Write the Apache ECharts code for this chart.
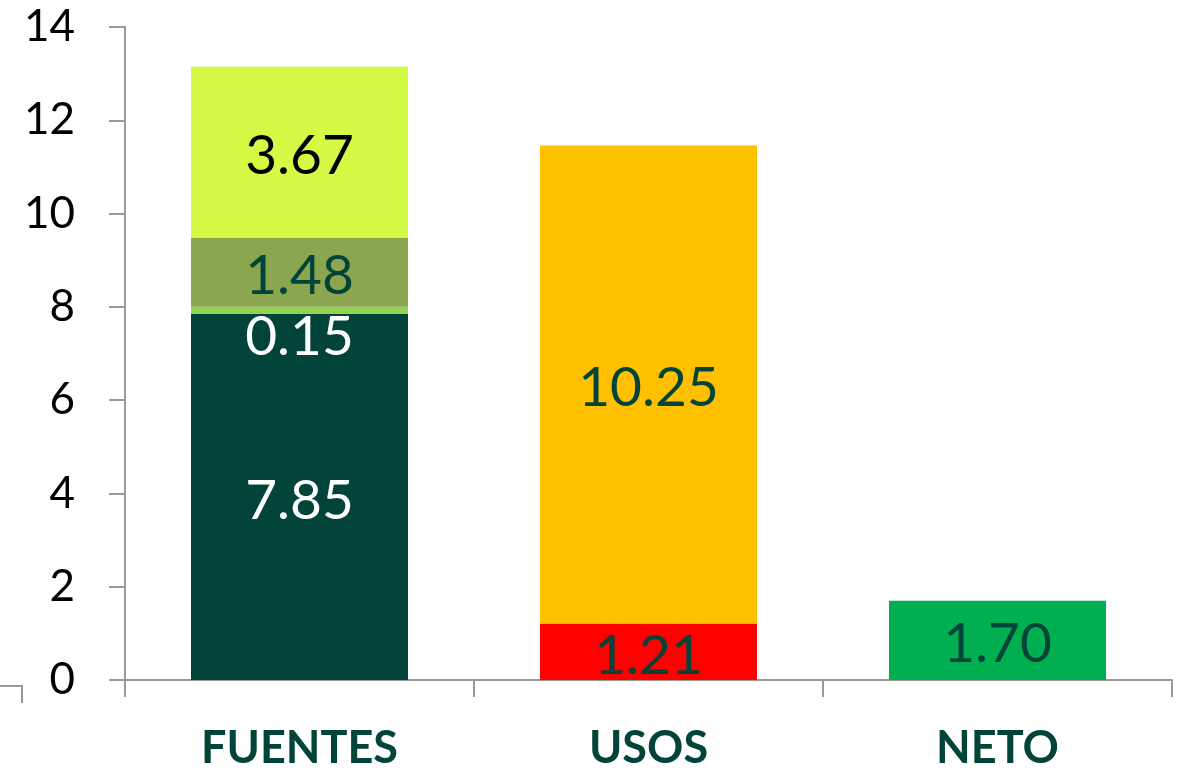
<!DOCTYPE html>
<html>
<head>
<meta charset="utf-8">
<title>Fuentes y usos</title>
<script src="https://cdn.jsdelivr.net/npm/echarts@6/dist/echarts.min.js"></script>
<style type="text/css">
html,body{margin:0;padding:0;background:#fff;}
#chart{width:1184px;height:772px;}
</style>
</head>
<body>
<div id="chart"></div>
<script type="text/javascript">
// data
var categories = ['FUENTES', 'USOS', 'NETO'];
var tramo1 = [7.85, 1.21, 1.70];
var tramo2 = [0.15, 10.25, '-'];
var tramo3 = [1.48, '-', '-'];
var tramo4 = [3.67, '-', '-'];
var yTicks = [0, 14, 2]; // min, max, interval

var dark = '#03443a';
var font = 'Lato';

function item(v, color, labelColor, offset) {
    if (v === '-') return '-';
    var o = {value: v, itemStyle: {color: color}, label: {color: labelColor}};
    if (offset) o.label.offset = offset;
    return o;
}

var lbl = {
    show: true,
    position: 'inside',
    offset: [0, 4],
    fontFamily: font,
    fontSize: 55,
    formatter: function (p) { return Number(p.value).toFixed(2); }
};

var chart = echarts.init(document.getElementById('chart'));
var option = {
    animation: false,
    grid: {left: 125, right: 12, top: 27, bottom: 92},
    xAxis: {
        type: 'category',
        data: categories,
        axisLine: {lineStyle: {color: '#999', width: 2}},
        axisTick: {show: true, length: 17, lineStyle: {color: '#999', width: 2}},
        axisLabel: {
            margin: 46,
            color: dark,
            fontFamily: font,
            fontWeight: 'bold',
            fontSize: 45
        }
    },
    yAxis: {
        type: 'value',
        min: yTicks[0],
        max: yTicks[1],
        interval: yTicks[2],
        splitLine: {show: false},
        axisLine: {show: true, lineStyle: {color: '#999', width: 2}},
        axisTick: {show: true, length: 16, lineStyle: {color: '#999', width: 2}},
        axisLabel: {
            margin: 50,
            color: '#000',
            fontFamily: font,
            fontSize: 44
        }
    },
    graphic: [{
        type: 'polyline',
        shape: {points: [[0, 686], [22, 686], [22, 703]]},
        style: {stroke: '#999', lineWidth: 2, fill: null}
    }],
    series: [
        {
            type: 'bar', stack: 'total', barWidth: 217, label: lbl,
            data: [
                item(tramo1[0], dark, '#fff'),
                item(tramo1[1], '#ff0000', dark),
                item(tramo1[2], '#00b050', dark)
            ]
        },
        {
            type: 'bar', stack: 'total', barWidth: 217, label: lbl,
            data: [
                item(tramo2[0], '#92d050', '#fff', [0, 27]),
                item(tramo2[1], '#ffc000', dark),
                item(tramo2[2], '#ffc000', dark)
            ]
        },
        {
            type: 'bar', stack: 'total', barWidth: 217, label: lbl,
            data: [
                item(tramo3[0], '#8ba64e', dark),
                item(tramo3[1], '#8ba64e', dark),
                item(tramo3[2], '#8ba64e', dark)
            ]
        },
        {
            type: 'bar', stack: 'total', barWidth: 217, label: lbl,
            data: [
                item(tramo4[0], '#d4fa46', '#000'),
                item(tramo4[1], '#d4fa46', '#000'),
                item(tramo4[2], '#d4fa46', '#000')
            ]
        }
    ]
};
chart.setOption(option);
</script>
</body>
</html>
